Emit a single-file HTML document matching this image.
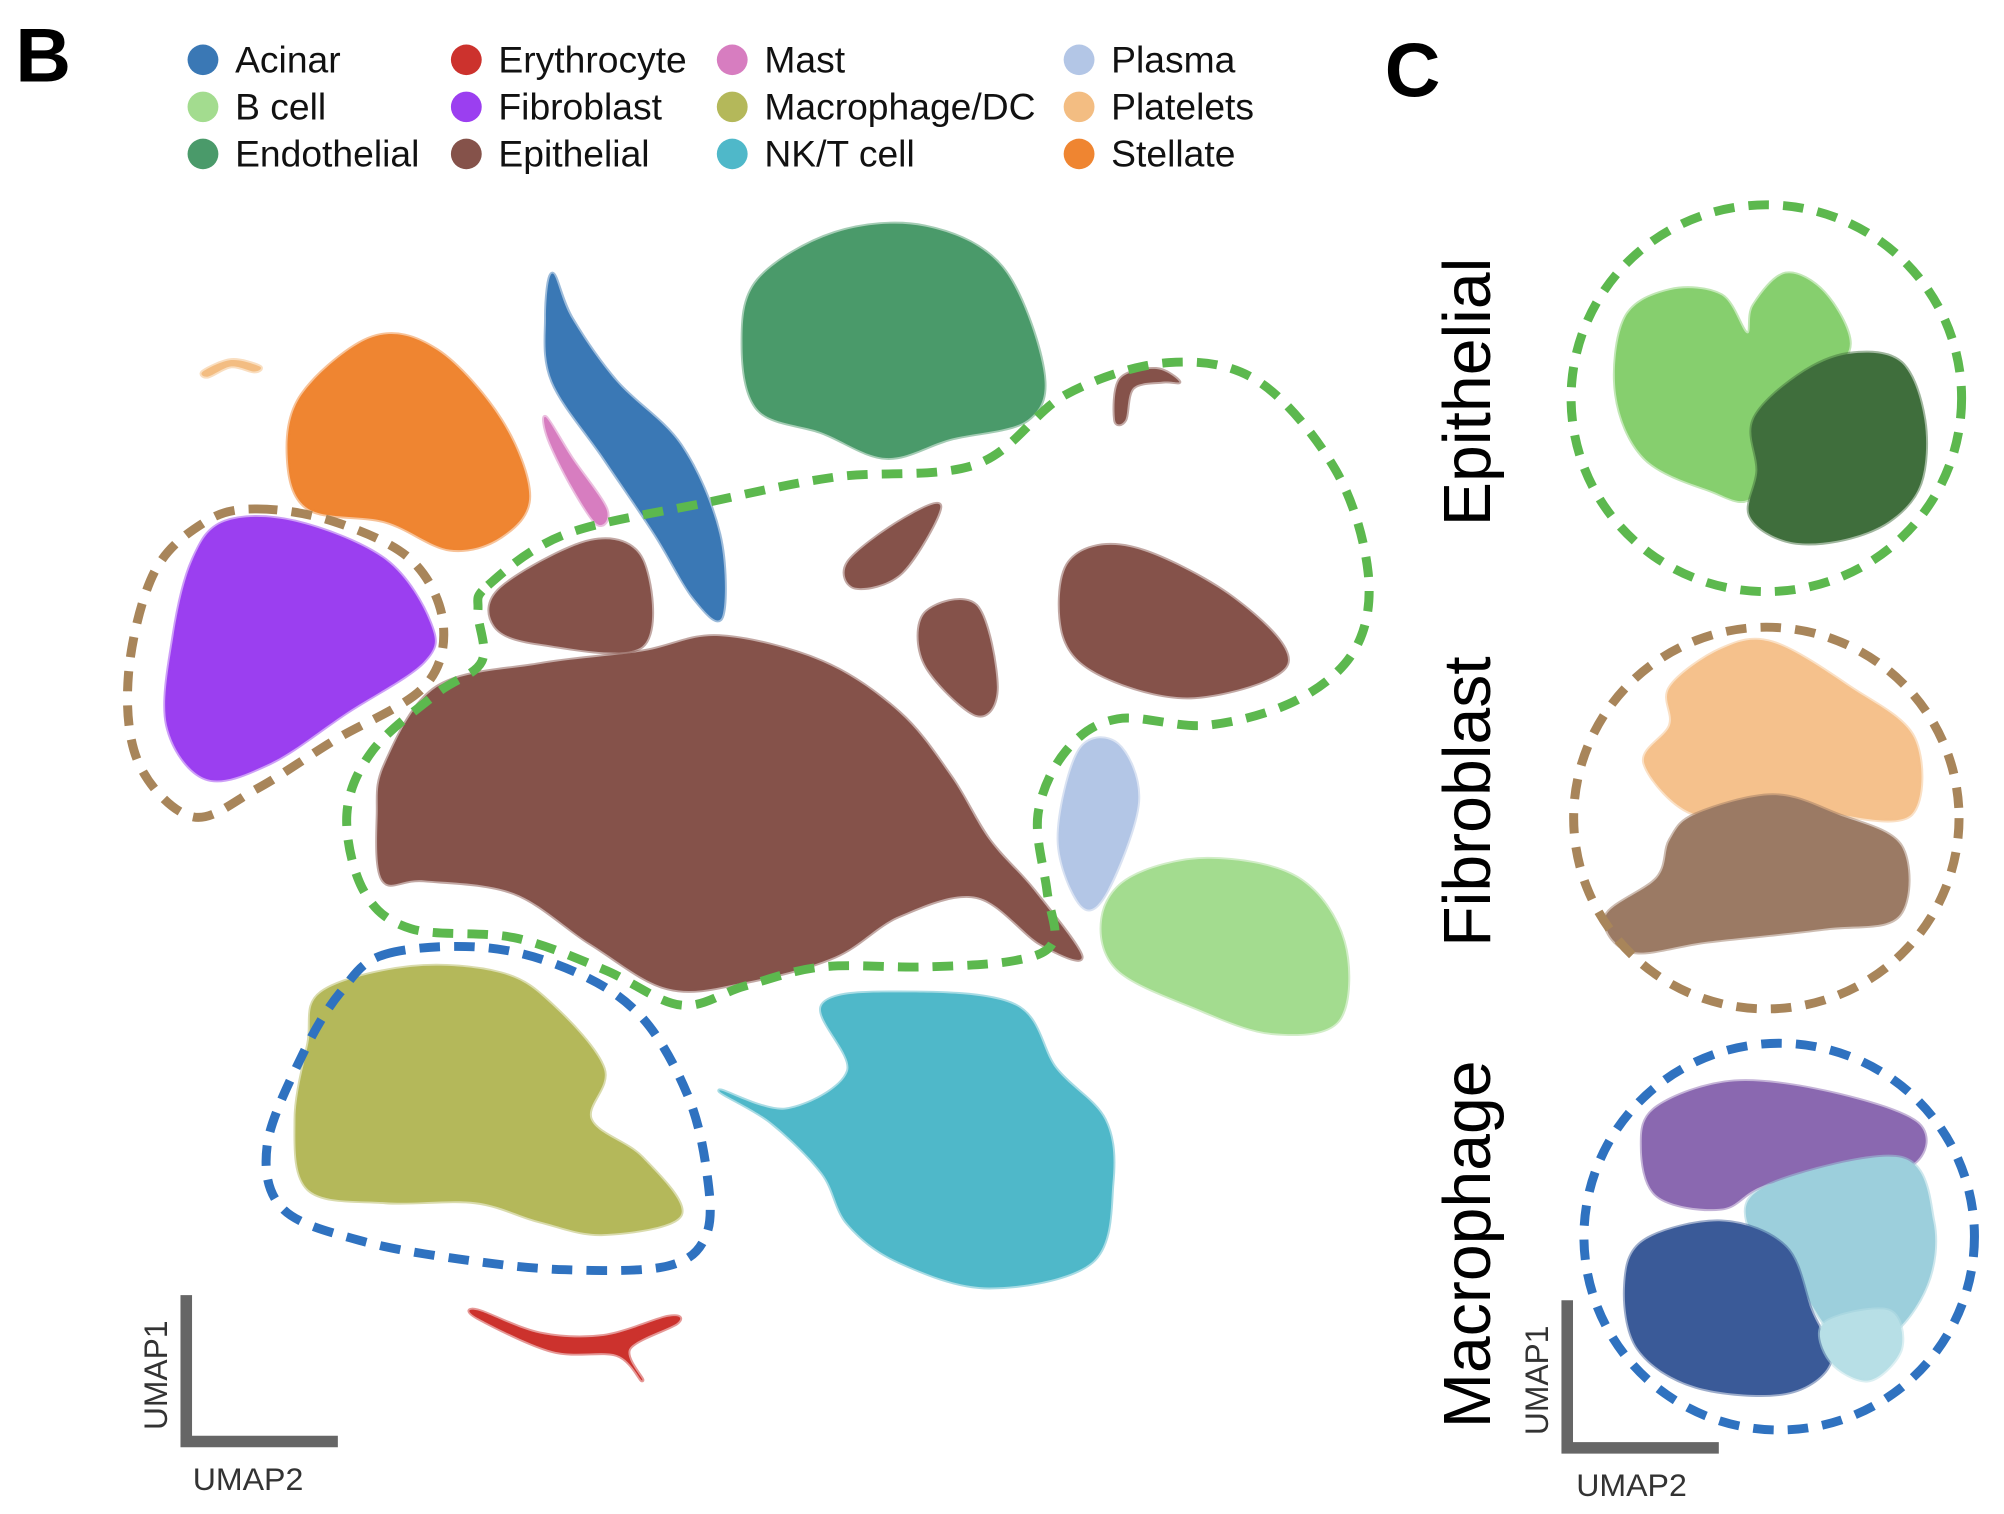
<!DOCTYPE html>
<html><head><meta charset="utf-8"><style>
html,body{margin:0;padding:0;background:#fff}
svg{display:block}
text{font-family:"Liberation Sans",Arial,sans-serif}
</style></head><body>
<svg id="fig" width="2004" height="1514" viewBox="0 0 1560 1190" preserveAspectRatio="none" xmlns="http://www.w3.org/2000/svg">
<g id="clusters"></g>
<g id="outlines"></g>
<g id="legend"></g>
<text x="12" y="64" font-size="60" font-weight="bold">B</text>
<text x="1078" y="76" font-size="60" font-weight="bold">C</text>
<g stroke="#666" stroke-width="9" fill="none">
<path d="M145,1018 L145,1133 L263,1133"/></g>
<text font-size="25" fill="#333" transform="translate(130,1124) rotate(-90)">UMAP1</text>
<text font-size="25" fill="#333" x="150" y="1171">UMAP2</text>
<g stroke="#666" stroke-width="9" fill="none">
<path d="M1220,1022 L1220,1138 L1338,1138"/></g>
<text font-size="25" fill="#333" transform="translate(1205,1128) rotate(-90)">UMAP1</text>
<text font-size="25" fill="#333" x="1227" y="1176">UMAP2</text>
<text font-size="52" text-anchor="middle" transform="translate(1160,308) rotate(-90)">Epithelial</text>
<text font-size="52" text-anchor="middle" transform="translate(1160,630) rotate(-90)">Fibroblast</text>
<text font-size="52" text-anchor="middle" transform="translate(1160,978) rotate(-90)">Macrophage</text>
</svg>
<script>
// UMAP coordinates (data units) -> screen via axis functions
const xOff = 0, yOff = 0;
function x(v){return xOff + v;}
function y(v){return yOff + v;}
const legendNames = ["Acinar","B cell","Endothelial","Erythrocyte","Fibroblast","Epithelial","Mast","Macrophage/DC","NK/T cell","Plasma","Platelets","Stellate"];
const legendColors = ["#3a78b5","#a3dc8f","#4a9a6a","#cc322d","#9b3ff0","#85524a","#d77dc0","#b4b85a","#4fb8c9","#b3c6e6","#f3bd82","#ef8531"];
const clusterNames = ["stellate","fibroblast","acinar","mast","endothelial","epithelial-main","epithelial-upper","epithelial-right","epithelial-small-a","epithelial-small-b","epithelial-arc","plasma","b-cell","macrophage","nk-t-cell","erythrocyte","platelets",
 "c-epi-light","c-epi-dark","c-fib-top","c-fib-bottom","c-mac-purple","c-mac-light","c-mac-dark","c-mac-pale"];
const clusterColors = ["#ef8531","#9b3ff0","#3a78b5","#d77dc0","#4a9a6a","#85524a","#85524a","#85524a","#85524a","#85524a","#85524a","#b3c6e6","#a3dc8f","#b4b85a","#4fb8c9","#cc322d","#f3bd82",
 "#86cf6e","#3f6e3c","#f5c18c","#9b7a64","#8a68b0","#9ccfdc","#3a5a98","#b7dfe6"];
const clusterShapes = [
 [[235,310],[290,265],[340,275],[390,330],[412,390],[390,422],[350,432],[300,410],[240,400],[224,360]],
 [[175,410],[230,410],[300,440],[335,490],[330,520],[270,560],[210,600],[160,612],[130,570],[135,500],[150,440]],
 [[430,215],[445,250],[480,300],[530,350],[560,420],[562,485],[540,470],[510,420],[470,360],[430,300],[425,250]],
 [[425,328],[445,360],[472,400],[465,412],[445,382],[427,345]],
 [[590,220],[650,183],[720,178],[780,210],[812,290],[800,330],[740,345],[690,360],[640,340],[590,322],[578,270]],
 [[300,600],[340,540],[420,522],[500,512],[560,500],[640,520],[700,560],[740,610],[770,660],[805,700],[842,752],[810,742],[760,705],[700,720],[650,752],[580,772],[520,777],[460,742],[400,702],[330,692],[298,692],[294,640]],
 [[390,462],[460,425],[500,440],[500,508],[420,506],[385,492]],
 [[832,442],[880,430],[960,470],[1002,522],[930,548],[860,532],[828,500]],
 [[720,482],[760,476],[776,540],[760,562],[720,522]],
 [[660,442],[700,410],[732,398],[702,450],[666,462]],
 [[868,330],[872,298],[900,290],[918,300],[905,300],[882,305],[876,330]],
 [[840,590],[870,585],[886,630],[862,700],[842,712],[824,660]],
 [[880,690],[940,675],[1010,690],[1046,740],[1042,802],[990,812],[930,792],[870,762],[858,722]],
 [[250,780],[320,760],[390,765],[430,790],[470,840],[460,880],[500,910],[530,955],[470,970],[420,960],[370,945],[300,945],[240,935],[230,880],[240,820]],
 [[640,790],[700,780],[790,790],[822,840],[860,880],[866,930],[850,992],[770,1012],[700,992],[660,962],[640,922],[600,882],[560,857],[612,872],[660,842]],
 [[372,1030],[420,1048],[470,1050],[520,1035],[527,1040],[490,1060],[500,1085],[480,1065],[430,1062],[372,1036]],
 [[158,292],[180,283],[202,288],[198,292],[180,288],[162,296]],
 [[1265,250],[1300,228],[1340,232],[1360,262],[1365,240],[1390,215],[1420,230],[1440,270],[1420,300],[1390,330],[1365,390],[1330,385],[1280,360],[1258,310]],
 [[1365,330],[1400,295],[1440,278],[1480,285],[1498,330],[1495,380],[1470,410],[1430,425],[1390,425],[1362,405],[1368,370]],
 [[1300,540],[1340,510],[1380,505],[1440,540],[1490,580],[1488,640],[1430,640],[1380,625],[1320,640],[1280,600],[1300,570]],
 [[1320,640],[1380,625],[1430,640],[1480,665],[1478,720],[1420,730],[1330,740],[1270,748],[1250,720],[1290,690],[1300,660]],
 [[1290,870],[1350,850],[1430,860],[1495,885],[1480,920],[1380,930],[1340,950],[1290,940],[1278,900]],
 [[1380,930],[1480,910],[1505,960],[1500,1010],[1470,1050],[1430,1050],[1400,1010],[1360,960]],
 [[1280,975],[1340,960],[1390,980],[1410,1030],[1425,1070],[1390,1095],[1320,1090],[1275,1060],[1265,1010]],
 [[1420,1040],[1470,1030],[1480,1060],[1455,1085],[1425,1070]]
];
const outlineNames = ["epithelial-outline","fibroblast-outline","macrophage-outline"];
const outlineColors = ["#5cb84e","#a8855a","#2f72c0"];
const outlineShapes = [
 [[380,460],[440,420],[550,395],[650,375],[760,365],[830,310],[910,285],[980,300],[1040,370],[1065,450],[1055,510],[1010,550],[940,570],[870,565],[830,590],[808,640],[815,700],[820,740],[790,755],[720,760],[640,760],[580,775],[530,790],[470,762],[400,737],[320,730],[283,700],[270,640],[290,590],[340,545],[375,520],[372,480]],
 [[200,400],[260,410],[320,440],[345,490],[330,540],[260,582],[200,620],[150,642],[108,600],[100,530],[120,450],[160,410]],
 [[300,750],[380,745],[450,765],[500,800],[535,860],[550,920],[550,970],[520,995],[440,998],[360,990],[280,975],[220,950],[208,900],[235,830],[265,780]]
];
const circleNames = ["epithelial-subpanel-circle","fibroblast-subpanel-circle","macrophage-subpanel-circle"];
const circleCx = [1375,1375,1385];
const circleCy = [313,643,972];
const circleR = [152,150,152];
const circleColors = ["#5cb84e","#a8855a","#2f72c0"];
const NS="http://www.w3.org/2000/svg";
function smoothPath(pts, close){
  const p=pts.map(q=>[x(q[0]),y(q[1])]);const n=p.length;let d=`M${p[0][0]},${p[0][1]}`;
  for(let i=0;i<n;i++){const p0=p[(i-1+n)%n],p1=p[i],p2=p[(i+1)%n],p3=p[(i+2)%n];
    const c1=[p1[0]+(p2[0]-p0[0])/6,p1[1]+(p2[1]-p0[1])/6],c2=[p2[0]-(p3[0]-p1[0])/6,p2[1]-(p3[1]-p1[1])/6];
    d+=` C${c1[0]},${c1[1]} ${c2[0]},${c2[1]} ${p2[0]},${p2[1]}`;}
  return d+(close?"Z":"");
}
const cg=document.getElementById('clusters');
clusterShapes.forEach((s,i)=>{const el=document.createElementNS(NS,'path');
  
  
  el.setAttribute('d',smoothPath(s,true));el.setAttribute('fill',clusterColors[i]);
  el.setAttribute('stroke',clusterColors[i]);el.setAttribute('stroke-width','3');el.setAttribute('stroke-opacity','0.5');
  cg.appendChild(el);});
const og=document.getElementById('outlines');
outlineShapes.forEach((s,i)=>{const el=document.createElementNS(NS,'path');
  
  
  el.setAttribute('d',smoothPath(s,true));el.setAttribute('fill','none');el.setAttribute('stroke',outlineColors[i]);
  el.setAttribute('stroke-width','7');el.setAttribute('stroke-dasharray','16 11');og.appendChild(el);});
circleCx.forEach((cx,i)=>{const el=document.createElementNS(NS,'circle');
  
  
  el.setAttribute('cx',cx);el.setAttribute('cy',circleCy[i]);el.setAttribute('r',circleR[i]);
  el.setAttribute('fill','none');el.setAttribute('stroke',circleColors[i]);el.setAttribute('stroke-width','7');el.setAttribute('stroke-dasharray','16 11');
  og.appendChild(el);});
const lg=document.getElementById('legend');
const colX=[158,363,570,840];const rowY=[47,84,121];
legendNames.forEach((nm,i)=>{const c=Math.floor(i/3),r=i%3;
  const g=document.createElementNS(NS,'g');
  
  
  const m=document.createElementNS(NS,'circle');m.setAttribute('cx',colX[c]);m.setAttribute('cy',rowY[r]);m.setAttribute('r','12');m.setAttribute('fill',legendColors[i]);
  const t=document.createElementNS(NS,'text');t.setAttribute('x',colX[c]+25);t.setAttribute('y',rowY[r]+10);t.setAttribute('font-size','29');t.setAttribute('fill','#111');t.textContent=nm;
  g.appendChild(m);g.appendChild(t);lg.appendChild(g);});
</script>
</body></html>
